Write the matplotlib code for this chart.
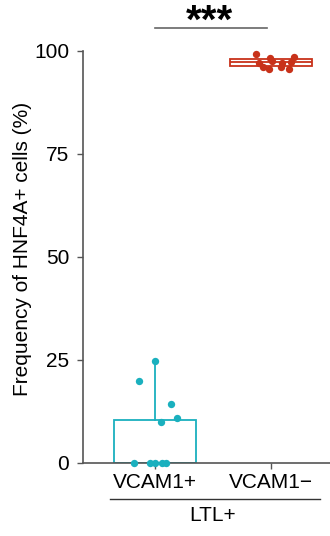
import matplotlib
matplotlib.use("Agg")
import matplotlib.pyplot as plt
import numpy as np

plt.rcParams['font.family'] = ['Liberation Sans', 'DejaVu Sans']

categories = ["VCAM1+", "VCAM1\u2212"]
group_label = "LTL+"
ylabel = "Frequency of HNF4A+ cells (%)"
yticks = [0, 25, 50, 75, 100]

vcam_pos_values = [19.9, 24.8, 14.2, 11.0, 10.0, 0, 0, 0, 0, 0]
vcam_pos_jitter = [-0.14, 0.0, 0.14, 0.19, 0.05, -0.18, -0.04, 0.0, 0.06, 0.10]
vcam_neg_values = [99.3, 97.2, 96.0, 95.6, 98.2, 97.6, 97.2, 96.1, 95.6, 97.3, 98.5]
vcam_neg_jitter = [-0.13, -0.10, -0.07, -0.02, -0.01, 0.01, 0.10, 0.09, 0.16, 0.17, 0.20]

box_q1 = [0.0, 96.4]
box_med = [0.0, 97.3]
box_q3 = [10.4, 98.1]
box_whislo = [0.0, 96.4]
box_whishi = [24.8, 98.1]

colors = ["#1ab0be", "#c8321a"]
FS = 15

fig = plt.figure(figsize=(3.3, 5.36), dpi=100)
ax = fig.add_axes([0.2515, 0.1362, 0.7485, 0.7687])

stats = []
for i in range(2):
    stats.append(dict(med=box_med[i], q1=box_q1[i], q3=box_q3[i],
                      whislo=box_whislo[i], whishi=box_whishi[i], fliers=[]))
positions = [1, 2]
for i in range(2):
    ax.bxp([stats[i]], positions=[positions[i]], widths=0.71, showfliers=False,
           patch_artist=True,
           boxprops=dict(facecolor="white", edgecolor=colors[i], linewidth=1.3),
           medianprops=dict(color=colors[i], linewidth=1.3),
           whiskerprops=dict(color=colors[i], linewidth=1.3),
           capprops=dict(linewidth=0),
           manage_ticks=False)

ax.scatter(np.array(positions[0]) + np.array(vcam_pos_jitter), vcam_pos_values,
           s=28, color=colors[0], zorder=5, clip_on=False, linewidths=0)
ax.scatter(np.array(positions[1]) + np.array(vcam_neg_jitter), vcam_neg_values,
           s=28, color=colors[1], zorder=5, clip_on=False, linewidths=0)

ax.set_xlim(0.38, 2.51)
ax.set_ylim(0, 100)
ax.set_yticks(yticks)
ax.set_yticklabels([str(t) for t in yticks], fontsize=FS)
ax.set_xticks(positions)
ax.set_xticklabels(categories, fontsize=FS)
ax.tick_params(axis='both', direction='out', length=4, width=1, color="#555555", pad=3)
ax.tick_params(axis='y', pad=6)
for s in ["top", "right"]:
    ax.spines[s].set_visible(False)
for s in ["left", "bottom"]:
    ax.spines[s].set_color("#555555")
    ax.spines[s].set_linewidth(1.2)
ax.set_ylabel(ylabel, fontsize=FS, labelpad=2)
ax.yaxis.set_label_coords(-0.205, 0.52)

# group line and label below
ax.plot([0.61, 2.42], [-0.088, -0.088], transform=ax.get_xaxis_transform(),
        color="#333333", lw=1, clip_on=False)
ax.text(1.5, -0.105, group_label, transform=ax.get_xaxis_transform(),
        ha="center", va="top", fontsize=FS)

# significance
ax.plot([1.0, 1.97], [1.055, 1.055], transform=ax.get_xaxis_transform(),
        color="#666666", lw=1.2, clip_on=False)
ax.text(1.475, 1.118, "***", transform=ax.get_xaxis_transform(),
        ha="center", va="top", fontsize=29, fontweight="bold")

fig.savefig("out.png", dpi=100)
